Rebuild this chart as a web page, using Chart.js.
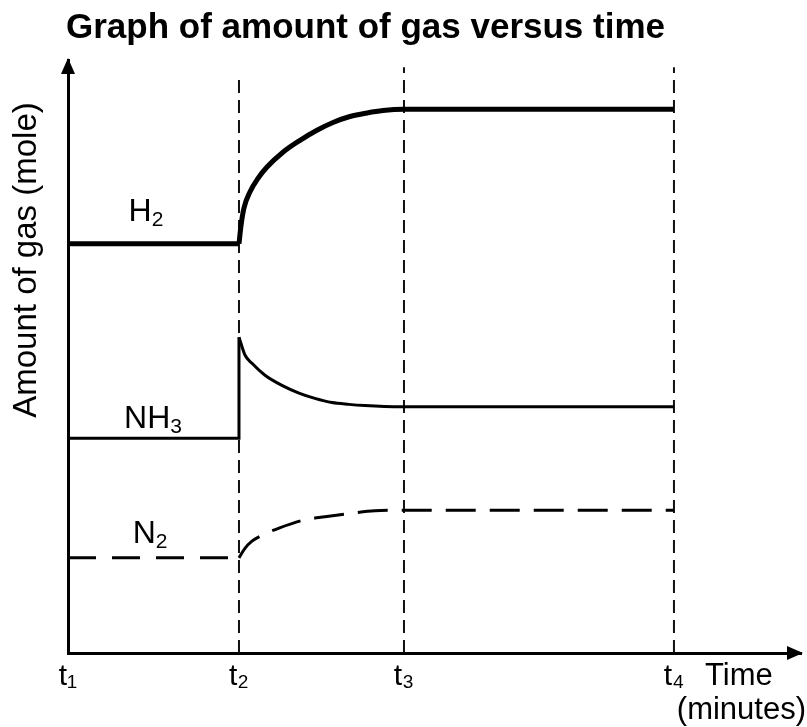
<!DOCTYPE html>
<html>
<head>
<meta charset="utf-8">
<script src="https://cdn.jsdelivr.net/npm/chart.js@4.4.1/dist/chart.umd.min.js"></script>
<style>
  html, body { margin: 0; padding: 0; background: #fff; }
  #wrap { width: 807px; height: 727px; }
</style>
</head>
<body>
<div id="wrap"><canvas id="gasChart" width="807" height="727"></canvas></div>
<script>
// time marks on the x axis
const tickTimes = [0, 10, 19.65, 35.44];
const tickLabels = ["t₁", "t₂", "t₃", "t₄"];

// H2 (first two points = before t2, rest = curve after t2)
const h2Time = [0, 10, 10.12, 10.29, 10.64, 11.11, 11.64, 12.57, 13.57, 14.56, 15.5, 16.49, 17.49, 18.42, 19.65, 35.44];
const h2Mol  = [6.88, 6.88, 7.19, 7.48, 7.75, 7.98, 8.17, 8.42, 8.62, 8.79, 8.92, 9.02, 9.08, 9.12, 9.14, 9.14];

// NH3 (flat, jump at t2, then falls)
const nh3Time = [0, 10, 10, 10.35, 10.76, 11.52, 12.51, 13.51, 14.44, 15.44, 16.43, 17.37, 18.5, 19.65, 35.44];
const nh3Mol  = [3.61, 3.61, 5.31, 5.01, 4.87, 4.67, 4.50, 4.37, 4.28, 4.21, 4.18, 4.16, 4.145, 4.14, 4.14];

// N2
const n2Time = [0, 10, 10.35, 10.76, 11.35, 12.34, 13.86, 15.03, 16.61, 17.95, 19.65, 35.44];
const n2Mol  = [1.60, 1.60, 1.76, 1.88, 1.98, 2.10, 2.24, 2.29, 2.35, 2.39, 2.40, 2.40];

// top of the dashed guide lines at t2, t3, t4
const guideTop = [9.73, 9.85, 9.85];

// gas labels: [main, subscript, x, y]
const gasLabels = [["H", "2", 4.56, 7.26], ["NH", "3", 4.97, 3.78], ["N", "2", 4.8, 1.85]];

const FONT = "'Liberation Sans', Arial, sans-serif";

function pts(xs, ys, from, to) {
  const out = [];
  for (let i = from; i < to; i++) out.push({ x: xs[i], y: ys[i] });
  return out;
}

function solid(data, width, curved) {
  return {
    data: data, borderColor: "#000", borderWidth: width, pointRadius: 0,
    tension: 0, cubicInterpolationMode: curved ? "monotone" : "default", fill: false
  };
}

const datasets = [
  solid(pts(h2Time, h2Mol, 0, 2), 5, false),
  solid(pts(h2Time, h2Mol, 1, h2Time.length), 5, true),
  solid(pts(nh3Time, nh3Mol, 0, 3), 3, false),
  solid(pts(nh3Time, nh3Mol, 2, nh3Time.length), 3, true),
  Object.assign(solid(pts(n2Time, n2Mol, 0, 2), 3, false), { borderDash: [28, 16] }),
  Object.assign(solid(pts(n2Time, n2Mol, 1, n2Time.length), 3, true), { borderDash: [30, 14] })
];

for (let i = 1; i < tickTimes.length; i++) {
  datasets.push({
    data: [{ x: tickTimes[i], y: 0 }, { x: tickTimes[i], y: guideTop[i - 1] }],
    borderColor: "#111", borderWidth: 2, borderDash: [13, 7], pointRadius: 0, tension: 0
  });
}

const extras = {
  id: "extras",
  afterDraw(chart) {
    const ctx = chart.ctx;
    const a = chart.chartArea;
    const xs = chart.scales.x, ys = chart.scales.y;
    ctx.save();
    ctx.fillStyle = "#000";

    // arrow heads
    ctx.beginPath();
    ctx.moveTo(a.left, a.top - 2);
    ctx.lineTo(a.left - 7, a.top + 14);
    ctx.lineTo(a.left + 7, a.top + 14);
    ctx.closePath();
    ctx.fill();
    ctx.beginPath();
    ctx.moveTo(a.right + 2, a.bottom);
    ctx.lineTo(a.right - 14, a.bottom - 7);
    ctx.lineTo(a.right - 14, a.bottom + 7);
    ctx.closePath();
    ctx.fill();

    // y axis title
    ctx.save();
    ctx.translate(27, 260);
    ctx.rotate(-Math.PI / 2);
    ctx.font = "33px " + FONT;
    ctx.textAlign = "center";
    ctx.textBaseline = "middle";
    ctx.fillText("Amount of gas (mole)", 0, 0);
    ctx.restore();

    // x axis title
    ctx.font = "31px " + FONT;
    ctx.textBaseline = "alphabetic";
    ctx.textAlign = "left";
    ctx.fillText("Time", 705, 685);
    ctx.textAlign = "right";
    ctx.fillText("(minutes)", 806, 719);

    // gas labels with subscripts
    gasLabels.forEach(([main, sub, lx, ly]) => {
      ctx.font = "32px " + FONT;
      const w1 = ctx.measureText(main).width;
      ctx.font = "21px " + FONT;
      const w2 = ctx.measureText(sub).width;
      const x0 = xs.getPixelForValue(lx) - (w1 + w2) / 2;
      const y0 = ys.getPixelForValue(ly);
      ctx.textAlign = "left";
      ctx.font = "32px " + FONT;
      ctx.fillText(main, x0, y0);
      ctx.font = "21px " + FONT;
      ctx.fillText(sub, x0 + w1, y0 + 5);
    });
    ctx.restore();
  }
};

new Chart(document.getElementById("gasChart"), {
  type: "line",
  data: { datasets: datasets },
  plugins: [extras],
  options: {
    responsive: false,
    animation: false,
    layout: { padding: { left: 66, right: 6, top: 0, bottom: 0 } },
    plugins: {
      legend: { display: false },
      tooltip: { enabled: false },
      title: {
        display: true,
        text: "Graph of amount of gas versus time",
        align: "start",
        color: "#000",
        font: { family: FONT, size: 35, weight: "bold" },
        padding: { top: 7, bottom: 11 }
      }
    },
    scales: {
      x: {
        type: "linear", min: 0, max: 42.87,
        grid: { display: false, drawTicks: false },
        border: { display: true, color: "#000", width: 3 },
        afterBuildTicks: s => { s.ticks = tickTimes.map(v => ({ value: v })); },
        afterFit: s => { s.height = 74; },
        ticks: {
          autoSkip: false, maxRotation: 0, padding: 6, color: "#000",
          font: { family: FONT, size: 30 },
          callback: (v, i) => tickLabels[i]
        }
      },
      y: {
        type: "linear", min: 0, max: 9.97,
        grid: { display: false, drawTicks: false },
        border: { display: true, color: "#000", width: 3 },
        ticks: { display: false },
        afterFit: s => { s.width = 2; }
      }
    }
  }
});
</script>
</body>
</html>
